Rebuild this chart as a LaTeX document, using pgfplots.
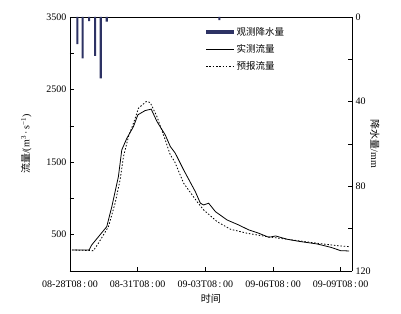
\documentclass[border=0pt]{standalone}
\usepackage{pgfplots}
\pgfplotsset{compat=1.18}
\usetikzlibrary{calc}
\usepackage{fontspec}
\setmainfont{Liberation Serif}
\newfontfamily\cjk{Noto Sans CJK SC}
\definecolor{barcol}{RGB}{45,50,100}
\pgfplotsset{
 linelegend/.style={legend image code/.code={\draw[##1] (0pt,0pt) -- (28pt,0pt);}},
 barlegend/.style={legend image code/.code={\fill[barcol] (0pt,-2pt) rectangle (28pt,2pt);}},
}
\begin{document}
\begin{tikzpicture}
\begin{axis}[name=ax1, scale only axis, width=282pt, height=254pt,
  xmin=0, xmax=300, ymin=0, ymax=3500,
  axis y line*=left, xtick pos=lower,
  xtick={0,72,144,216,288},
  xticklabels={08-28T08\,:\,00,08-31T08\,:\,00,09-03T08\,:\,00,09-06T08\,:\,00,09-09T08\,:\,00},
  xticklabel style={yshift=-6pt},
  ytick={0,500,...,3500}, yticklabels={,500,,1500,,2500,,3500},
  tick align=inside, major tick length=4pt,
  axis line style={line width=0.6pt},
  tick style={line width=0.6pt, black},
  ticklabel style={font=\fontsize{10}{12}\selectfont},
  xlabel={\cjk 时间}, ylabel={{\cjk 流量}/(m\textsuperscript{3}\,·\,s\textsuperscript{−1})},
  ylabel shift=8pt,
  label style={font=\fontsize{10}{12}\selectfont},
  ]
\addplot[black, line width=0.8pt] coordinates {
(2.5,290) (20.3,290) (23.1,359) (39.1,611) (44.5,887) (51.5,1301) (55.1,1669)
(60.5,1830) (67.5,1990) (72.2,2152) (80,2211) (86.4,2230) (92.5,2060) (101.3,1876)
(106.7,1715) (112,1623) (120.9,1393) (133.3,1094) (138.7,934) (142.2,910) (147.5,934)
(154.7,818) (167.1,703) (179.5,634) (190.2,566) (200.9,520) (211.5,464) (218.7,483)
(231.1,437) (245.3,405) (263.1,372) (277.3,327) (288,280) (296.9,276)
};
\addplot[black, line width=0.8pt, dash pattern=on 1.5pt off 1.8pt] coordinates {
(2.1,290) (24.9,280) (30.2,382) (40.9,611) (48,934) (53.3,1255) (56.9,1577)
(62.2,1852) (67.5,2037) (72.9,2244) (81.1,2335) (85.3,2322) (92.5,2128) (101.3,1807)
(106.7,1600) (111.3,1508) (120.9,1210) (135.1,956) (142.2,841) (156.5,680) (170.7,575)
(188.5,520) (209.8,473) (231.1,437) (263.1,382) (284.5,349) (296.9,335)
};
\end{axis}
\begin{axis}[scale only axis, width=282pt, height=254pt,
  xmin=0, xmax=300, ymin=0, ymax=120, y dir=reverse,
  axis y line*=right, axis x line=none,
  ytick={0,20,...,120}, yticklabels={0,,40,,80,,120},
  tick align=inside, major tick length=4pt,
  axis line style={line width=0.6pt},
  tick style={line width=0.6pt, black},
  ticklabel style={font=\fontsize{10}{12}\selectfont},
  ylabel={{\cjk 降水量}/mm}, ylabel style={rotate=180, font=\fontsize{10}{12}\selectfont},
  ylabel shift=-7pt,
  legend style={draw=none, fill=none, at={(0.47,0.975)}, anchor=north west,
    font=\cjk\fontsize{9.5}{11}\selectfont, row sep=3.5pt},
  legend cell align=left,
  ]
\addplot[ybar, bar width=2.2, fill=barcol, draw=none, barlegend] coordinates {
(7.8,12.8) (13.5,19.5) (20.3,1.9) (26.7,18.4) (32.7,29) (39.1,2.2) (159,1.5)
};
\addlegendentry{观测降水量}
\addlegendimage{black, line width=0.8pt, linelegend}
\addlegendentry{实测流量}
\addlegendimage{black, line width=0.8pt, dash pattern=on 1.5pt off 1.8pt, linelegend}
\addlegendentry{预报流量}
\end{axis}
\pgfresetboundingbox
\path[use as bounding box] ($(ax1.south west)+(-70pt,-43pt)$) rectangle ($(ax1.north east)+(49pt,17pt)$);
\end{tikzpicture}
\end{document}
